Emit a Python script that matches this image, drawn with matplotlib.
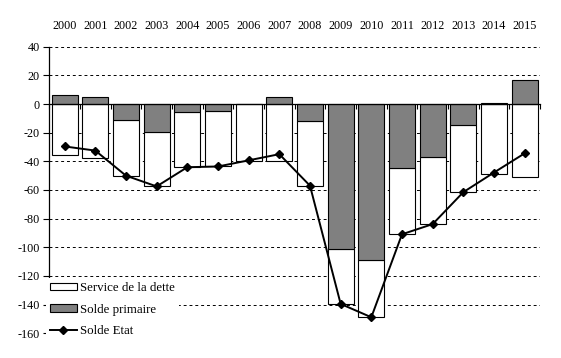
import numpy as np
import matplotlib
matplotlib.use("Agg")
import matplotlib.pyplot as plt
from matplotlib.transforms import blended_transform_factory

plt.rcParams['font.family'] = ['Liberation Serif', 'DejaVu Serif']

years = ['2000', '2001', '2002', '2003', '2004', '2005', '2006', '2007',
         '2008', '2009', '2010', '2011', '2012', '2013', '2014', '2015']
solde_primaire = [6.3, 4.9, -11.3, -19.5, -5.6, -4.7, 0.3, 4.9,
                  -11.8, -101.4, -108.8, -44.9, -37.0, -14.7, 0.7, 16.8]
service_dette = [35.9, 37.6, 38.7, 38.0, 38.5, 38.9, 39.9, 39.9,
                 45.2, 38.1, 40.0, 46.0, 46.8, 46.8, 48.7, 51.2]
solde_etat = [-29.6, -32.5, -50.0, -57.5, -44.1, -43.6, -39.3, -35.0,
              -57.0, -139.5, -148.8, -90.9, -83.8, -61.5, -47.8, -34.4]
yticks = [40, 20, 0, -20, -40, -60, -80, -100, -120, -140, -160]

W, H = 561, 358
fig = plt.figure(figsize=(W / 100, H / 100), dpi=100)
left, right = 49.3 / W, 540 / W
top_px, bot_px = 46.7, 333.3
ax = fig.add_axes([left, 1 - bot_px / H, right - left, (bot_px - top_px) / H])

x = np.arange(len(years))
prim = np.array(solde_primaire)
serv = np.array(service_dette)
bw = 0.85

b_serv = ax.bar(x, -serv, bottom=np.minimum(prim, 0), width=bw, color='white',
                edgecolor='black', linewidth=0.8, zorder=2,
                label='Service de la dette')
b_prim = ax.bar(x, prim, width=bw, color='#808080', edgecolor='black',
                linewidth=0.8, zorder=2, label='Solde primaire')
l_etat, = ax.plot(x, solde_etat, color='black', lw=1.4, marker='D',
                  markersize=4, zorder=3, label='Solde Etat')

ax.set_xlim(-0.5, len(years) - 0.5)
ax.set_ylim(-160, 40)
ax.set_yticks(yticks)
ax.set_yticklabels([str(v) for v in yticks], fontsize=8.7)
ax.tick_params(axis='y', direction='out', length=4, width=0.8, pad=3)

ax.spines['top'].set_visible(False)
ax.spines['right'].set_visible(False)
ax.spines['left'].set_linewidth(0.9)
ax.spines['bottom'].set_position(('data', 0))
ax.spines['bottom'].set_linewidth(0.9)
ax.set_xticks(np.arange(-0.5, len(years), 1))
ax.set_xticklabels([])
ax.tick_params(axis='x', direction='out', length=3.5, width=0.8)

ax.yaxis.grid(True, linestyle=(0, (3, 3)), color='black', linewidth=0.7)
ax.set_axisbelow(True)

trans = blended_transform_factory(ax.transData, ax.transAxes)
for xi, yr in zip(x, years):
    ax.text(xi, 1.072, yr, transform=trans, ha='center', va='center',
            fontsize=8.7)

leg = ax.legend(handles=[b_serv, b_prim, l_etat],
                loc='upper left', bbox_to_anchor=(46 / W, 1 - 278 / H),
                bbox_transform=fig.transFigure, fontsize=9.3, frameon=True,
                facecolor='white', edgecolor='none', framealpha=1,
                fancybox=False, borderpad=0.3, handlelength=2.1,
                handleheight=0.5, handletextpad=0.25, labelspacing=0.75,
                borderaxespad=0)
leg.set_zorder(5)

fig.savefig('out.png', dpi=100)
